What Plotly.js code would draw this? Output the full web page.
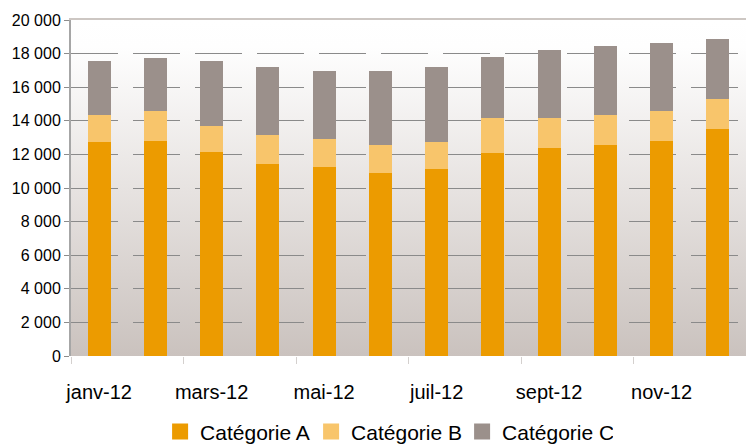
<!DOCTYPE html>
<html>
<head>
<meta charset="utf-8">
<script src="https://cdn.plot.ly/plotly-3.0.1.min.js"></script>
<style>
html,body{margin:0;padding:0;background:#fff;}
#chart{width:746px;height:446px;}
</style>
</head>
<body>
<div id="chart"></div>
<script>
// ---- data ----
var months = ["janv-12","févr-12","mars-12","avr-12","mai-12","juin-12","juil-12","août-12","sept-12","oct-12","nov-12","déc-12"];
var seriesNames = ["Catégorie A","Catégorie B","Catégorie C"];
var catA = [12710, 12770, 12120, 11430, 11230, 10890, 11110, 12060, 12360, 12540, 12770, 13490];
var catB = [1610, 1790, 1600, 1700, 1660, 1650, 1600, 2080, 1780, 1780, 1790, 1780];
var catC = [3260, 3200, 3860, 4100, 4100, 4450, 4520, 3680, 4100, 4160, 4090, 3620];
var yTicks = [0, 2000, 4000, 6000, 8000, 10000, 12000, 14000, 16000, 18000, 20000];

var colors = ["#EC9B00", "#F8C56B", "#9B908B"];
var values = [catA, catB, catC];

var traces = [];
values.forEach(function(v, i){
  traces.push({
    type: "bar", x: months, y: v, name: seriesNames[i],
    marker: {color: colors[i], line: {width: 0}},
    showlegend: false, hoverinfo: "x+y+name"
  });
});
// legend entries (larger square symbols)
seriesNames.forEach(function(n, i){
  traces.push({
    type: "scatter", mode: "markers", x: [null], y: [null], name: n,
    marker: {symbol: "square", size: 17, color: colors[i]},
    showlegend: true, hoverinfo: "skip"
  });
});
// invisible trace for top border axis
traces.push({type:"scatter", mode:"markers", x:[null], y:[null], xaxis:"x2", showlegend:false, hoverinfo:"skip"});

var svg = '<svg xmlns="http://www.w3.org/2000/svg" width="100" height="100" preserveAspectRatio="none">' +
  '<defs><linearGradient id="g" x1="0" y1="0" x2="0" y2="1">' +
  '<stop offset="0" stop-color="#FFFFFF"/>' +
  '<stop offset="0.08" stop-color="#FEFEFE"/>' +
  '<stop offset="0.5" stop-color="#E7E3E1"/>' +
  '<stop offset="1" stop-color="#CAC2BE"/>' +
  '</linearGradient></defs><rect width="100" height="100" fill="url(#g)"/></svg>';
var bgSrc = "data:image/svg+xml;charset=utf-8," + encodeURIComponent(svg);

var font = "Arial, 'Liberation Sans', sans-serif";

var layout = {
  width: 746, height: 446,
  margin: {l: 71, r: 0, t: 20, b: 90, pad: 0, autoexpand: false},
  paper_bgcolor: "#FFFFFF",
  plot_bgcolor: "rgba(0,0,0,0)",
  separators: ", ",
  barmode: "stack",
  bargap: 0.59,
  font: {family: font, color: "#000000"},
  showlegend: true,
  legend: {
    orientation: "h", x: 0.132, xanchor: "left", y: -0.226, yanchor: "middle",
    traceorder: "normal", entrywidth: 106, entrywidthmode: "pixels",
    font: {size: 21, family: font, color: "#000000"},
    itemwidth: 30, tracegroupgap: 0, bgcolor: "rgba(0,0,0,0)"
  },
  images: [{
    source: bgSrc, xref: "paper", yref: "paper", x: 0, y: 1, sizex: 1, sizey: 1,
    xanchor: "left", yanchor: "top", sizing: "stretch", layer: "below"
  }],
  xaxis: {
    type: "category", categoryorder: "array", categoryarray: months,
    dtick: 2, tickson: "boundaries", tickangle: 0, automargin: false,
    ticks: "outside", ticklen: 7, tickwidth: 1, tickcolor: "#D4D0CE",
    showgrid: false, zeroline: false, showline: false,
    tickfont: {size: 20, family: font, color: "#000000"},
    ticklabelstandoff: 22,
    fixedrange: true
  },
  xaxis2: {
    overlaying: "x", side: "top", showline: true, linecolor: "#CDC7C3", linewidth: 2,
    showticklabels: false, ticks: "", showgrid: false, zeroline: false, fixedrange: true,
    automargin: false
  },
  yaxis: {
    range: [0, 20000], tickvals: yTicks, tickformat: ",d", automargin: false,
    ticks: "outside", ticklen: 5, tickwidth: 1, tickcolor: "#8C8C8C",
    showline: true, linecolor: "#A6A6A6", linewidth: 2,
    showgrid: true, gridcolor: "#8A8A8A", gridwidth: 1, griddash: "47px,15px",
    zeroline: false,
    tickfont: {size: 16, family: font, color: "#000000"},
    fixedrange: true
  }
};

Plotly.newPlot("chart", traces, layout, {displayModeBar: false, staticPlot: true});
</script>
</body>
</html>
